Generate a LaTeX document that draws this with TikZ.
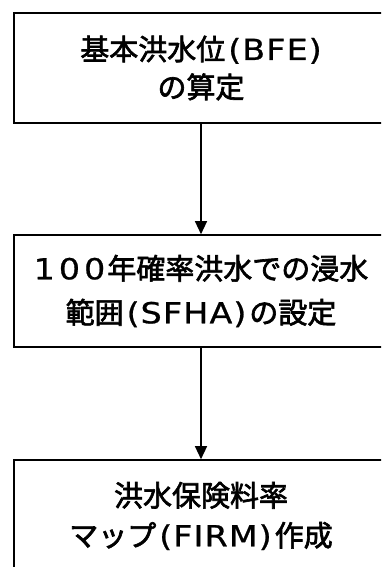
\documentclass[tikz,border=0pt]{standalone}
\usepackage{fontspec}
\newfontfamily\cjk[FakeBold=2.2]{Noto Sans CJK JP}
\newfontfamily\latf[FakeBold=0.8,FakeStretch=1.15,LetterSpace=4]{DejaVu Sans}
\newcommand{\lat}[1]{{\latf #1}}
\newcommand{\lp}{\hspace{3pt}{\latf(}\hspace{1pt}}
\newcommand{\rp}{\hspace{1pt}{\latf)}\hspace{3pt}}
\usetikzlibrary{arrows.meta}
\begin{document}
\begin{tikzpicture}[x=1pt,y=-1pt,
  stepbox/.style={draw=black, line width=1.6pt, rectangle, minimum width=374pt,
    minimum height=110pt, inner sep=0pt, align=center, font=\cjk\fontsize{29}{38}\selectfont},
  flow/.style={line width=1.3pt, -{Triangle[length=13pt,width=12pt]}}]
\useasboundingbox (0,0) rectangle (381,567);
\clip (0,0) rectangle (381,567);
\fill[white] (0,0) rectangle (381,567);
\node[stepbox] (b1) at (201,68) {基本洪水位\lp\lat{BFE}\rp\\の算定};
\node[stepbox, minimum height=112pt, font=\cjk\fontsize{29}{44}\selectfont] (b2) at (201,291) {\lat{1\hspace{4pt}0\hspace{4pt}0}\hspace{2pt}年確率洪水での浸水\\範囲\lp\lat{SFHA}\rp の設定};
\node[stepbox, minimum height=112pt, font=\cjk\fontsize{29}{40}\selectfont] (b3) at (201,516) {洪水保険料率\\マップ\lp\lat{FIRM}\rp 作成};
\draw[flow] (b1.south) -- (b2.north);
\draw[flow] (b2.south) -- (b3.north);
\end{tikzpicture}
\end{document}
